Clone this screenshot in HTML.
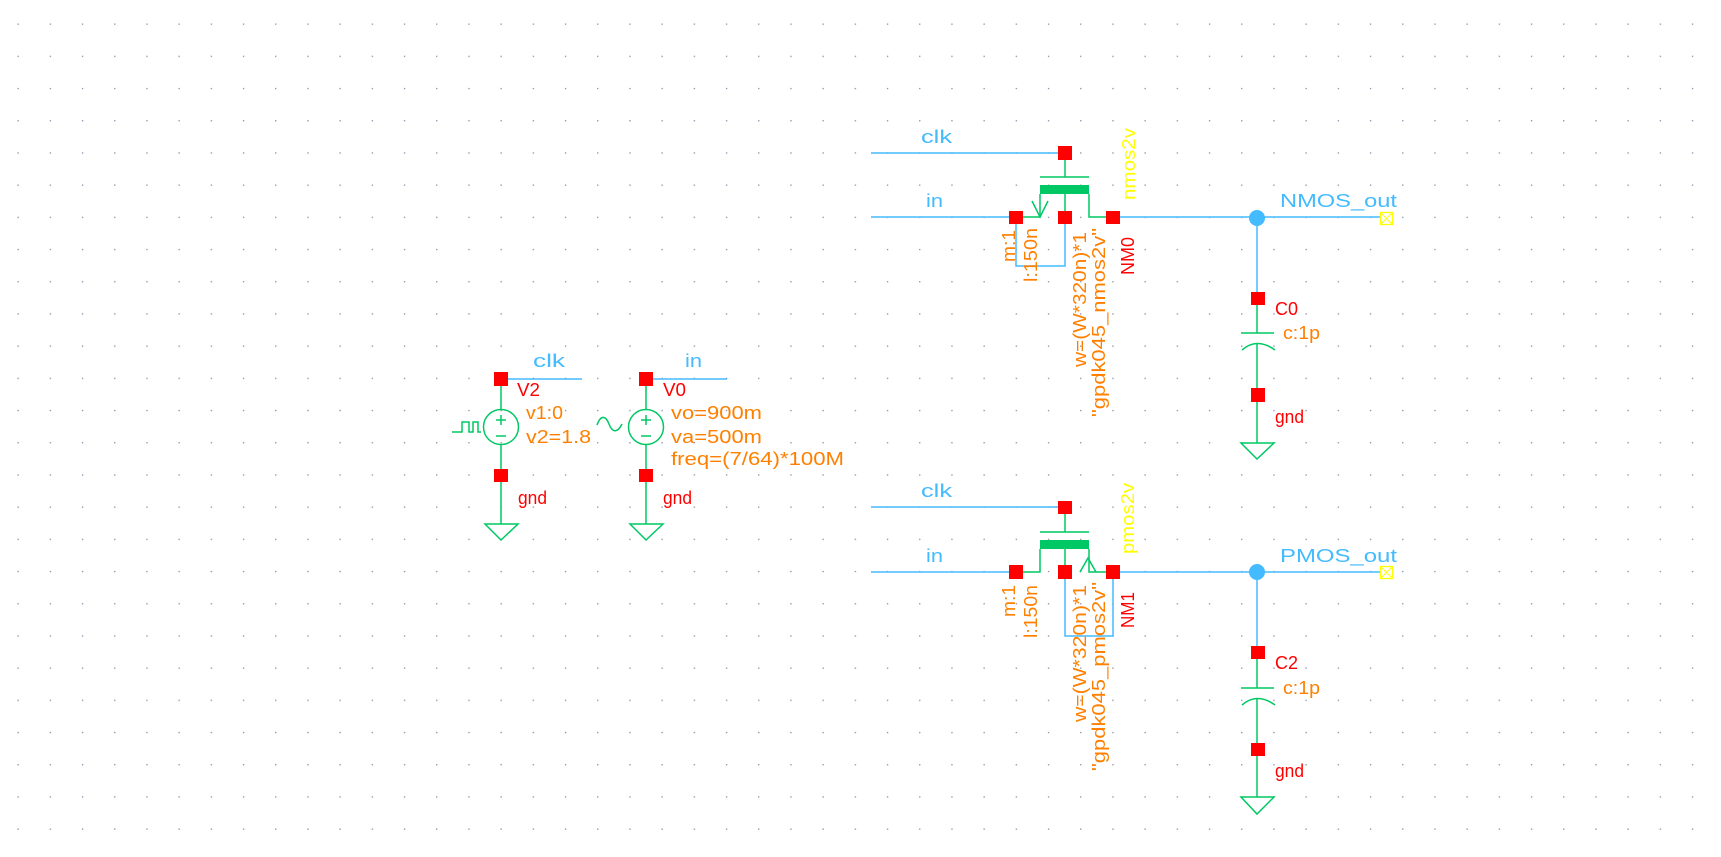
<!DOCTYPE html>
<html><head><meta charset="utf-8"><style>html,body{margin:0;padding:0;background:#fff}svg{display:block}text{font-family:"Liberation Sans",sans-serif;font-size:18px}</style></head>
<body>
<svg width="1721" height="857" viewBox="0 0 1721 857" xmlns="http://www.w3.org/2000/svg">
<defs><pattern id="g" x="17.5" y="23.5" width="32.2" height="32.2" patternUnits="userSpaceOnUse"><rect x="0" y="0" width="1.3" height="1.3" fill="#8a8aaa"/></pattern></defs>
<rect width="1721" height="857" fill="#fff"/>
<rect width="1721" height="857" fill="url(#g)"/>

<g id="nmos">
<g stroke="#44bbff" stroke-width="1.5" fill="none">
<line x1="871" y1="153" x2="1060" y2="153"/>
<line x1="871" y1="217" x2="1010" y2="217"/>
<line x1="1120" y1="217" x2="1381" y2="217"/>
<line x1="1257" y1="217" x2="1257" y2="293"/>
<polyline points="1016,224 1016,266 1065,266 1065,224"/>
</g>
<g stroke="#00c864" stroke-width="1.5" fill="none">
<line x1="1065" y1="159" x2="1065" y2="177"/>
<line x1="1040" y1="177" x2="1089" y2="177"/>
<polyline points="1023,217 1040,217 1040,194"/>
<line x1="1065" y1="194" x2="1065" y2="212"/>
<polyline points="1089,194 1089,217 1106,217"/>
<polyline points="1032,201 1040,217 1048,201"/>
</g>
<rect x="1040" y="185" width="49" height="9" fill="#00c864"/>
<g fill="#ff0000"><rect x="1058" y="146" width="14" height="14"/><rect x="1009" y="211" width="14" height="13"/><rect x="1058" y="211" width="14" height="13"/><rect x="1106" y="211" width="14" height="13"/></g>
<text x="921" y="143" fill="#44bbff" textLength="31" lengthAdjust="spacingAndGlyphs">clk</text>
<text x="926" y="207" fill="#44bbff" textLength="17" lengthAdjust="spacingAndGlyphs">in</text>
<g fill="#ff8000">
<text transform="translate(1015,262) rotate(-90)" textLength="32" lengthAdjust="spacingAndGlyphs">m:1</text>
<text transform="translate(1037,282) rotate(-90)" textLength="54" lengthAdjust="spacingAndGlyphs">l:150n</text>
<text transform="translate(1086,367) rotate(-90)" textLength="135" lengthAdjust="spacingAndGlyphs">w=(W*320n)*1</text>
<text transform="translate(1105,417) rotate(-90)" textLength="189" lengthAdjust="spacingAndGlyphs">"gpdk045_nmos2v"</text>
</g>
<text transform="translate(1134,275) rotate(-90)" fill="#ff0000" textLength="38" lengthAdjust="spacingAndGlyphs">NM0</text>
<text transform="translate(1135,200) rotate(-90)" fill="#ffff00" textLength="72" lengthAdjust="spacingAndGlyphs">nmos2v</text>
<circle cx="1257" cy="218" r="8" fill="#44bbff"/>
<text x="1280" y="207" fill="#44bbff" font-size="22" textLength="117" lengthAdjust="spacingAndGlyphs">NMOS_out</text>
<rect x="1380.5" y="212.5" width="12" height="12" fill="none" stroke="#ffff00" stroke-width="1.3"/>
<path d="M1381 213 L1392 224 M1392 213 L1381 224" stroke="#ffff00" stroke-width="1"/>
<g stroke="#00c864" stroke-width="1.5" fill="none">
<line x1="1257" y1="305" x2="1257" y2="333"/>
<line x1="1241" y1="333" x2="1274" y2="333"/>
<path d="M1242 350 Q1257 337 1275 350"/>
<line x1="1257" y1="344" x2="1257" y2="443"/>
<polygon points="1241,443 1274,443 1257,459"/>
</g>
<g fill="#ff0000"><rect x="1251" y="292" width="14" height="13"/><rect x="1251" y="388" width="14" height="14"/></g>
<text x="1275" y="315" fill="#ff0000" textLength="23" lengthAdjust="spacingAndGlyphs">C0</text>
<text x="1283" y="339" fill="#ff8000" textLength="37" lengthAdjust="spacingAndGlyphs">c:1p</text>
<text x="1275" y="423" fill="#ff0000" textLength="29" lengthAdjust="spacingAndGlyphs">gnd</text>
</g>

<g id="pmos">
<g stroke="#44bbff" stroke-width="1.5" fill="none">
<line x1="871" y1="507" x2="1060" y2="507"/>
<line x1="871" y1="572" x2="1010" y2="572"/>
<line x1="1120" y1="572" x2="1381" y2="572"/>
<line x1="1257" y1="572" x2="1257" y2="647"/>
<polyline points="1065,578 1065,636 1113,636 1113,578"/>
</g>
<g stroke="#00c864" stroke-width="1.5" fill="none">
<line x1="1065" y1="514" x2="1065" y2="532"/>
<line x1="1040" y1="532" x2="1089" y2="532"/>
<polyline points="1023,572 1040,572 1040,549"/>
<line x1="1065" y1="549" x2="1065" y2="566"/>
<polyline points="1089,549 1089,572 1106,572"/>
<polyline points="1080,572 1088,558 1096,572"/>
</g>
<rect x="1040" y="540" width="49" height="9" fill="#00c864"/>
<g fill="#ff0000"><rect x="1058" y="501" width="14" height="13"/><rect x="1009" y="565" width="14" height="14"/><rect x="1058" y="565" width="14" height="14"/><rect x="1106" y="565" width="14" height="14"/></g>
<text x="921" y="497" fill="#44bbff" textLength="31" lengthAdjust="spacingAndGlyphs">clk</text>
<text x="926" y="562" fill="#44bbff" textLength="17" lengthAdjust="spacingAndGlyphs">in</text>
<g fill="#ff8000">
<text transform="translate(1015,617) rotate(-90)" textLength="32" lengthAdjust="spacingAndGlyphs">m:1</text>
<text transform="translate(1037,638) rotate(-90)" textLength="53" lengthAdjust="spacingAndGlyphs">l:150n</text>
<text transform="translate(1086,722) rotate(-90)" textLength="137" lengthAdjust="spacingAndGlyphs">w=(W*320n)*1</text>
<text transform="translate(1105,771) rotate(-90)" textLength="189" lengthAdjust="spacingAndGlyphs">"gpdk045_pmos2v"</text>
</g>
<text transform="translate(1134,628) rotate(-90)" fill="#ff0000" textLength="36" lengthAdjust="spacingAndGlyphs">NM1</text>
<text transform="translate(1134,554) rotate(-90)" fill="#ffff00" textLength="71" lengthAdjust="spacingAndGlyphs">pmos2v</text>
<circle cx="1257" cy="572" r="8" fill="#44bbff"/>
<text x="1280" y="562" fill="#44bbff" font-size="22" textLength="117" lengthAdjust="spacingAndGlyphs">PMOS_out</text>
<rect x="1380.5" y="566.5" width="12" height="12" fill="none" stroke="#ffff00" stroke-width="1.3"/>
<path d="M1381 567 L1392 578 M1392 567 L1381 578" stroke="#ffff00" stroke-width="1"/>
<g stroke="#00c864" stroke-width="1.5" fill="none">
<line x1="1257" y1="659" x2="1257" y2="688"/>
<line x1="1241" y1="688" x2="1274" y2="688"/>
<path d="M1242 705 Q1257 692 1275 705"/>
<line x1="1257" y1="699" x2="1257" y2="797"/>
<polygon points="1241,797 1274,797 1257,814"/>
</g>
<g fill="#ff0000"><rect x="1251" y="646" width="14" height="13"/><rect x="1251" y="743" width="14" height="13"/></g>
<text x="1275" y="669" fill="#ff0000" textLength="23" lengthAdjust="spacingAndGlyphs">C2</text>
<text x="1283" y="694" fill="#ff8000" textLength="37" lengthAdjust="spacingAndGlyphs">c:1p</text>
<text x="1275" y="777" fill="#ff0000" textLength="29" lengthAdjust="spacingAndGlyphs">gnd</text>
</g>

<g id="sources">
<g stroke="#44bbff" stroke-width="1.5"><line x1="508" y1="379" x2="582" y2="379"/><line x1="653" y1="379" x2="727" y2="379"/></g>
<g stroke="#00c864" stroke-width="1.5" fill="none">
<line x1="501" y1="386" x2="501" y2="410"/><line x1="501" y1="444" x2="501" y2="524"/>
<circle cx="501" cy="427" r="17.5"/>
<line x1="496" y1="420" x2="506" y2="420"/><line x1="501" y1="415" x2="501" y2="425"/><line x1="496" y1="436" x2="506" y2="436"/>
<polygon points="485,524 518,524 501,540"/>
<path d="M452 432 H462 V422 H469 V432 H473 V422 H478 V432 H481"/>
<line x1="646" y1="386" x2="646" y2="410"/><line x1="646" y1="444" x2="646" y2="524"/>
<circle cx="646" cy="427" r="17.5"/>
<line x1="641" y1="420" x2="651" y2="420"/><line x1="646" y1="415" x2="646" y2="425"/><line x1="641" y1="436" x2="651" y2="436"/>
<polygon points="630,524 663,524 646,540"/>
<path d="M597 425 C601 414 606 416 609 424 C612 432 617 434 622 424"/>
</g>
<g fill="#ff0000"><rect x="494" y="372" width="14" height="14"/><rect x="494" y="469" width="14" height="13"/><rect x="639" y="372" width="14" height="14"/><rect x="639" y="469" width="14" height="13"/></g>
<text x="533" y="367" fill="#44bbff" textLength="32" lengthAdjust="spacingAndGlyphs">clk</text>
<text x="685" y="367" fill="#44bbff" textLength="17" lengthAdjust="spacingAndGlyphs">in</text>
<g fill="#ff0000">
<text x="517" y="396" textLength="23" lengthAdjust="spacingAndGlyphs">V2</text>
<text x="663" y="396" textLength="23" lengthAdjust="spacingAndGlyphs">V0</text>
<text x="518" y="504" textLength="29" lengthAdjust="spacingAndGlyphs">gnd</text>
<text x="663" y="504" textLength="29" lengthAdjust="spacingAndGlyphs">gnd</text>
</g>
<g fill="#ff8000">
<text x="526" y="419" textLength="37" lengthAdjust="spacingAndGlyphs">v1:0</text>
<text x="526" y="443" textLength="65" lengthAdjust="spacingAndGlyphs">v2=1.8</text>
<text x="671" y="419" textLength="91" lengthAdjust="spacingAndGlyphs">vo=900m</text>
<text x="671" y="443" textLength="91" lengthAdjust="spacingAndGlyphs">va=500m</text>
<text x="671" y="465" textLength="173" lengthAdjust="spacingAndGlyphs">freq=(7/64)*100M</text>
</g>
</g>
</svg>
</body></html>
